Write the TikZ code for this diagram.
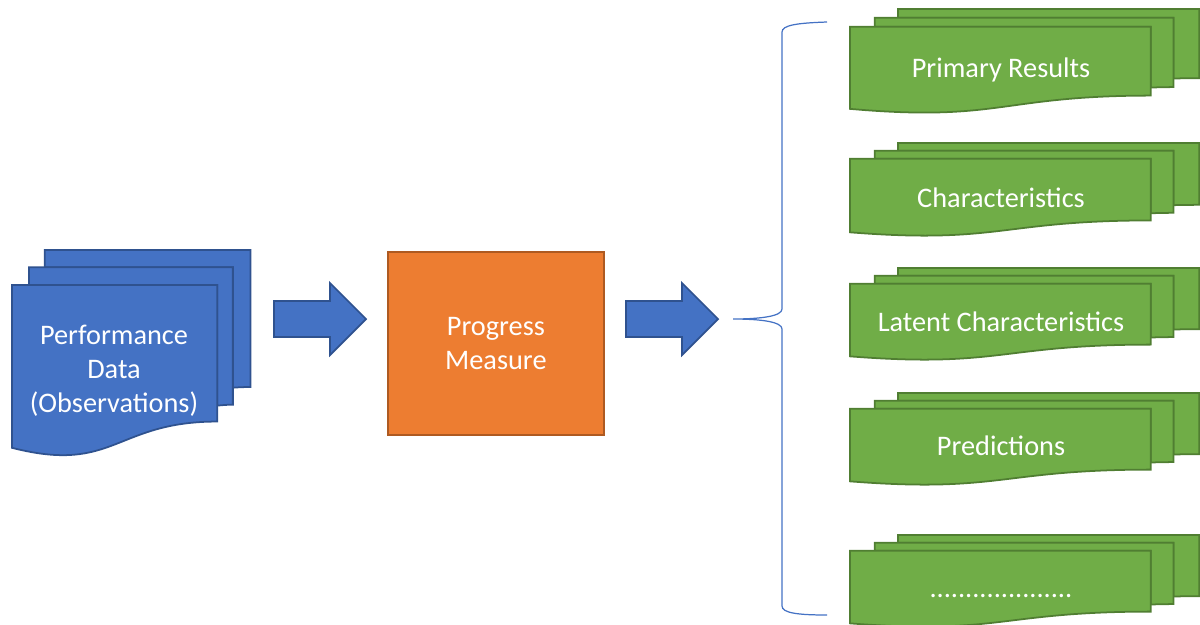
\documentclass[tikz,border=0pt]{standalone}
\usepackage{fontspec}
\setmainfont{Carlito}
\definecolor{docblue}{HTML}{4472C4}
\definecolor{docblueline}{HTML}{2F528F}
\definecolor{measorange}{HTML}{ED7D31}
\definecolor{measorangeline}{HTML}{AE5A21}
\definecolor{resgreen}{HTML}{70AD47}
\definecolor{resgreenline}{HTML}{507E32}

% Stack of three pages with a wavy bottom edge (x, y, width, height, fill, line);
% inside the scope the stack spans 0..100 in both directions
\newcommand\pagestack[6]{%
  \pgfmathsetmacro\stackxu{#3*0.002845276}%
  \pgfmathsetmacro\stackyu{#4*0.002845276}%
  \begin{scope}[shift={(#1,#2)}, x=\stackxu pt, y=-\stackyu pt,
                fill=#5, draw=#6, line width=0.5pt, line join=miter]
    \filldraw (13.759,0) -- (100,0) -- (100,66.63)
      .. controls (96.296,66.63) and (92.593,66.977) .. (92.593,66.977)
      -- (92.593,8.403) -- (13.759,8.403) -- cycle;
    \filldraw (7.093,8.403) -- (92.593,8.403) -- (92.593,75.241)
      .. controls (89.343,75.241) and (86.088,75.704) .. (86.088,75.704)
      -- (86.088,17.014) -- (7.093,17.014) -- cycle;
    \filldraw (0,96.213)
      .. controls (43.046,108.99) and (43.046,83.435) .. (86.088,83.435)
      -- (86.088,17.014) -- (0,17.014) -- cycle;
  \end{scope}}

% Block arrow pointing right: start, head base, tip, centre line
\newcommand\blockarrow[4]{%
  \filldraw[fill=docblue, draw=docblueline, line width=0.5pt]
    (#1,#4-18) -- (#2,#4-18) -- (#2,#4-36) -- (#3,#4) -- (#2,#4+36)
    -- (#2,#4+18) -- (#1,#4+18) -- cycle;}

\begin{document}
\begin{tikzpicture}[x=0.01cm, y=-0.01cm,
  lbl/.style={text=white, font=\fontsize{8.05}{9.7}\selectfont, align=center, inner sep=0pt}]
\useasboundingbox (0,0) rectangle (1200,624);

% input documents
\pagestack{12}{250}{239}{206}{docblue}{docblueline}
\node[lbl] (perf) at (114,370.5) {Performance\\Data\\(Observations)};

% measure box
\node[draw=measorangeline, fill=measorange, line width=0.5pt,
      minimum width=216*0.01cm, minimum height=183*0.01cm, inner sep=0pt,
      anchor=north west] (meas) at (387,251) {};
\node[lbl] (meastxt) at (meas.center) {Progress\\Measure};

% flow arrows
\blockarrow{274}{330}{366}{319}
\coordinate (a1s) at (274,319);
\coordinate (a1e) at (366,319);
\blockarrow{626}{682}{718}{319}
\coordinate (a2s) at (626,319);
\coordinate (a2e) at (718,319);

% brace grouping the outputs
\coordinate (brtip) at (733,319);
\draw[docblue, line width=0.35pt]
  (827,22) .. controls (798,23) and (782,25) .. (782,32)
  -- (782,309) .. controls (782,316) and (762,319) .. (brtip)
  .. controls (762,319) and (782,322) .. (782,329)
  -- (782,606) .. controls (782,613) and (798,615) .. (827,615);

% output documents
\pagestack{850}{9}{350}{104}{resgreen}{resgreenline}
\node[lbl] (r1) at (1001,70) {Primary Results};
\pagestack{850}{143}{350}{93}{resgreen}{resgreenline}
\node[lbl] (r2) at (1001,198) {Characteristics};
\pagestack{850}{268}{350}{92}{resgreen}{resgreenline}
\node[lbl] (r3) at (1001,322) {Latent Characteristics};
\pagestack{850}{393}{350}{92}{resgreen}{resgreenline}
\node[lbl] (r4) at (1001,446) {Predictions};
\pagestack{850}{535}{350}{92}{resgreen}{resgreenline}
\node[lbl] (r5) at (1001,596) {....................};
\end{tikzpicture}
\end{document}
